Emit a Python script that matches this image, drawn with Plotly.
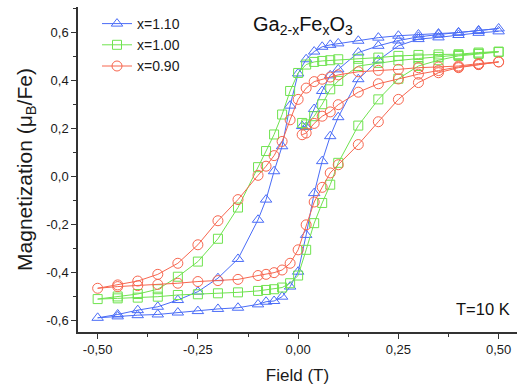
import plotly.graph_objects as go

# Field grids (T)
field_initial = [0.01, 0.02, 0.04, 0.06, 0.08, 0.10, 0.15, 0.20, 0.25, 0.30, 0.35, 0.40, 0.45, 0.50]
field_down = [0.45, 0.40, 0.35, 0.30, 0.25, 0.20, 0.15, 0.10, 0.08, 0.06, 0.04, 0.02, 0.00,
              -0.02, -0.04, -0.06, -0.08, -0.10, -0.15, -0.20, -0.25, -0.30, -0.35, -0.40, -0.45, -0.50]
field_up = [-0.45, -0.40, -0.35, -0.30, -0.25, -0.20, -0.15, -0.10, -0.08, -0.06, -0.04, -0.02, 0.00,
            0.02, 0.04, 0.06, 0.08, 0.10, 0.15, 0.20, 0.25, 0.30, 0.35, 0.40, 0.45, 0.50]

# x = 1.10
m110_initial = [0.209, 0.205, 0.28, 0.355, 0.42, 0.445, 0.515, 0.543, 0.565, 0.58, 0.59, 0.598, 0.605, 0.615]
m110_down = [0.607, 0.598, 0.594, 0.590, 0.585, 0.577, 0.564, 0.553, 0.547, 0.539, 0.519, 0.487, 0.428,
             0.294, 0.125, 0.021, -0.097, -0.181, -0.344, -0.424, -0.48, -0.515, -0.543, -0.557, -0.575, -0.589]
m110_up = [-0.583, -0.578, -0.575, -0.567, -0.561, -0.552, -0.547, -0.533, -0.522, -0.519, -0.501, -0.459, -0.397,
           -0.244, -0.07, 0.063, 0.167, 0.246, 0.404, 0.483, 0.543, 0.571, 0.578, 0.588, 0.597, 0.603]

# x = 1.00
m100_initial = [0.222, 0.216, 0.25, 0.30, 0.362, 0.397, 0.459, 0.472, 0.482, 0.49, 0.497, 0.504, 0.51, 0.519]
m100_down = [0.515, 0.508, 0.507, 0.505, 0.501, 0.494, 0.489, 0.487, 0.483, 0.48, 0.476, 0.465, 0.43,
             0.355, 0.257, 0.174, 0.105, 0.038, -0.13, -0.26, -0.355, -0.418, -0.47, -0.49, -0.50, -0.511]
m100_up = [-0.508, -0.505, -0.501, -0.494, -0.491, -0.487, -0.483, -0.477, -0.473, -0.47, -0.463, -0.445, -0.413,
           -0.306, -0.195, -0.111, -0.035, 0.056, 0.211, 0.32, 0.406, 0.459, 0.483, 0.501, 0.51, 0.517]

# x = 0.90
m090_initial = [0.173, 0.18, 0.22, 0.25, 0.268, 0.298, 0.35, 0.385, 0.405, 0.425, 0.44, 0.455, 0.465, 0.476]
m090_down = [0.469, 0.459, 0.455, 0.452, 0.445, 0.441, 0.435, 0.422, 0.413, 0.404, 0.394, 0.367, 0.32,
             0.235, 0.145, 0.086, 0.042, 0.004, -0.097, -0.185, -0.285, -0.362, -0.408, -0.436, -0.452, -0.466]
m090_up = [-0.459, -0.455, -0.45, -0.445, -0.438, -0.434, -0.429, -0.413, -0.408, -0.401, -0.39, -0.362, -0.306,
           -0.202, -0.107, -0.046, 0.014, 0.048, 0.132, 0.227, 0.32, 0.39, 0.431, 0.452, 0.465, 0.476]

series_names = ["x=1.10", "x=1.00", "x=0.90"]
x_tick_vals = [-0.50, -0.25, 0.00, 0.25, 0.50]
x_tick_text = ["-0,50", "-0,25", "0,00", "0,25", "0,50"]
y_tick_vals = [-0.6, -0.4, -0.2, 0.0, 0.2, 0.4, 0.6]
y_tick_text = ["-0,6", "-0,4", "-0,2", "0,0", "0,2", "0,4", "0,6"]

colors = ["#4a6cf7", "#6fe34f", "#f7664f"]
symbols = ["triangle-up-open", "square-open", "circle-open"]
sizes = [10, 9, 10]
data = [
    (m110_initial, m110_down, m110_up),
    (m100_initial, m100_down, m100_up),
    (m090_initial, m090_down, m090_up),
]

FONT = "Arial, Liberation Sans, sans-serif"
TXT = "#1a1a1a"
W, H = 517, 392
L, R, T, B = 78, 0, 7, 60
pw, ph = W - L - R, H - T - B


def px(xp):
    return (xp - L) / pw


def py(yp):
    return 1 - (yp - T) / ph


fig = go.Figure()
field_all = field_initial + field_down + field_up
for name, col, sym, sz, (a, b, c) in zip(series_names, colors, symbols, sizes, data):
    fig.add_trace(go.Scatter(
        x=field_all, y=a + b + c, mode="lines+markers", name=name,
        line=dict(color=col, width=1),
        marker=dict(symbol=sym, size=sz, color=col, line=dict(width=1, color=col)),
    ))

fig.update_layout(
    width=W, height=H,
    margin=dict(l=L, r=R, t=T, b=B, autoexpand=False),
    paper_bgcolor="white", plot_bgcolor="white",
    font=dict(family=FONT, color=TXT),
    showlegend=True,
    legend=dict(x=px(97), y=py(8), xanchor="left", yanchor="top",
                font=dict(size=14, family=FONT, color=TXT),
                bgcolor="rgba(0,0,0,0)", tracegroupgap=0, itemwidth=30),
    xaxis=dict(range=[-0.549, 0.5458], showgrid=False, zeroline=False, automargin=False,
               showline=True, linecolor="#333333", linewidth=1.5,
               ticks="outside", ticklen=5, tickwidth=1.2, tickcolor="#333333",
               tickvals=x_tick_vals, ticktext=x_tick_text,
               tickfont=dict(size=13, family=FONT, color=TXT),
               minor=dict(ticks="outside", ticklen=3, tickwidth=1, tickcolor="#333333", dtick=0.125,
                          tick0=-0.5, showgrid=False),
               title=dict(text="Field (T)", font=dict(size=17, family=FONT, color=TXT), standoff=13)),
    yaxis=dict(range=[-0.648, 0.7045], showgrid=False, zeroline=False, automargin=False,
               showline=True, linecolor="#333333", linewidth=1.5,
               ticks="outside", ticklen=5, tickwidth=1.2, tickcolor="#333333",
               tickvals=y_tick_vals, ticktext=y_tick_text,
               tickfont=dict(size=13, family=FONT, color=TXT),
               minor=dict(ticks="outside", ticklen=3, tickwidth=1, tickcolor="#333333", dtick=0.1,
                          tick0=-0.6, showgrid=False),
               title=dict(text="Magnetization (μ<sub>B</sub>/Fe)", font=dict(size=21, family=FONT, color=TXT),
                          standoff=8)),
    annotations=[
        dict(text="Ga<sub>2-x</sub>Fe<sub>x</sub>O<sub>3</sub>", x=px(303), y=py(26),
             xref="paper", yref="paper", xanchor="center", yanchor="middle",
             showarrow=False, font=dict(size=20, family=FONT, color="#111111")),
        dict(text="T=10 K", x=px(483), y=py(309), xref="paper", yref="paper",
             xanchor="center", yanchor="middle",
             showarrow=False, font=dict(size=16.5, family=FONT, color="#111111")),
    ],
)

fig.write_html("out.html", config={"displayModeBar": False},
               post_script="document.body.style.margin='0';document.body.style.padding='0';")
